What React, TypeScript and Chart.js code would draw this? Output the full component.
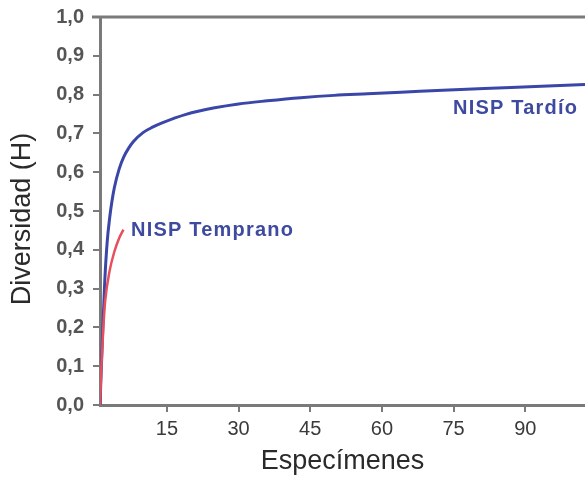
import React, { useEffect, useRef } from "react";
import { Chart, registerables } from "chart.js";

Chart.register(...registerables);

// Rarefaction curves (Specimens vs Diversity H)
const tardioX = [1, 1.2, 1.5, 2, 2.5, 3, 3.5, 4, 5, 6, 7, 8, 10, 12, 14, 19, 25, 30, 36, 43, 50, 57, 64, 74, 87, 102.5];
const tardioY = [0, 0.07, 0.17, 0.32, 0.42, 0.48, 0.525, 0.56, 0.608, 0.64, 0.662, 0.679, 0.702, 0.716, 0.727, 0.749, 0.766, 0.776, 0.784, 0.792, 0.798, 0.802, 0.806, 0.812, 0.818, 0.826];

const tempranoX = [1, 1.3, 1.7, 2.1, 3, 4, 5, 5.9];
const tempranoY = [0, 0.1, 0.2, 0.27, 0.345, 0.395, 0.43, 0.452];

const xTicks = [15, 30, 45, 60, 75, 90];
const yTicks = [0, 0.1, 0.2, 0.3, 0.4, 0.5, 0.6, 0.7, 0.8, 0.9, 1.0];

const xTitle = "Especímenes";
const yTitle = "Diversidad (H)";
const labelTardio = { text: "NISP Tardío", x: 74.9, y: 0.765 };
const labelTemprano = { text: "NISP Temprano", x: 7.5, y: 0.451 };

const FONT = "'Liberation Sans', Arial, Helvetica, sans-serif";
const AXIS = "#7a7a7a";
const BLUE = "#3a46a8";
const RED = "#e5505c";
const LABEL_BLUE = "#3d4aa0";

export default function App() {
  const ref = useRef<HTMLCanvasElement | null>(null);

  useEffect(() => {
    if (!ref.current) return;

    const extras = {
      id: "extras",
      afterDraw(chart: any) {
        const { ctx, chartArea, scales } = chart;
        ctx.save();
        // top border
        ctx.strokeStyle = AXIS;
        ctx.lineWidth = 3;
        ctx.beginPath();
        ctx.moveTo(chartArea.left - 8, chartArea.top);
        ctx.lineTo(chartArea.right, chartArea.top);
        ctx.stroke();
        // y axis title
        ctx.save();
        ctx.fillStyle = "#2a2a2a";
        ctx.font = `27px ${FONT}`;
        ctx.textAlign = "center";
        ctx.textBaseline = "middle";
        ctx.translate(23, (chartArea.top + chartArea.bottom) / 2 + 8);
        ctx.rotate(-Math.PI / 2);
        ctx.fillText(yTitle, 0, 0);
        ctx.restore();
        // series labels
        ctx.fillStyle = LABEL_BLUE;
        ctx.font = `bold 20px ${FONT}`;
        try {
          (ctx as any).letterSpacing = "1.2px";
        } catch (e) {}
        ctx.textBaseline = "middle";
        ctx.textAlign = "left";
        for (const l of [labelTardio, labelTemprano]) {
          ctx.fillText(l.text, scales.x.getPixelForValue(l.x), scales.y.getPixelForValue(l.y));
        }
        ctx.restore();
      },
    };

    const chart = new Chart(ref.current, {
      type: "scatter",
      data: {
        datasets: [
          {
            label: "NISP Temprano",
            data: tempranoX.map((x, i) => ({ x, y: tempranoY[i] })),
            showLine: true,
            borderColor: RED,
            borderWidth: 2.5,
            pointRadius: 0,
            cubicInterpolationMode: "monotone",
            fill: false,
          },
          {
            label: "NISP Tardío",
            data: tardioX.map((x, i) => ({ x, y: tardioY[i] })),
            showLine: true,
            borderColor: BLUE,
            borderWidth: 3,
            pointRadius: 0,
            cubicInterpolationMode: "monotone",
            fill: false,
          },
        ],
      },
      options: {
        animation: false,
        responsive: false,
        layout: { padding: { top: 17, right: 0, left: 0, bottom: 0 } },
        plugins: { legend: { display: false }, tooltip: { enabled: false } },
        scales: {
          x: {
            type: "linear",
            min: 1,
            max: 102.5,
            afterBuildTicks: (s: any) => {
              s.ticks = xTicks.map((v) => ({ value: v }));
            },
            afterFit: (s: any) => {
              s.height = 75;
              s.paddingLeft = 0;
              s.paddingRight = 0;
            },
            grid: { drawOnChartArea: false, color: AXIS, lineWidth: 2, tickLength: 7 },
            border: { color: AXIS, width: 3 },
            ticks: {
              color: "#3a3a3a",
              font: { family: FONT, size: 20 },
              padding: 5,
              maxRotation: 0,
            },
            title: {
              display: true,
              text: xTitle,
              color: "#2a2a2a",
              font: { family: FONT, size: 27 },
              padding: { top: 0, bottom: 2 },
            },
          },
          y: {
            type: "linear",
            min: 0,
            max: 1,
            afterBuildTicks: (s: any) => {
              s.ticks = yTicks.map((v) => ({ value: v }));
            },
            afterFit: (s: any) => {
              s.width = 100;
              s.paddingTop = 0;
              s.paddingBottom = 0;
            },
            grid: { drawOnChartArea: false, color: AXIS, lineWidth: 2, tickLength: 7 },
            border: { color: AXIS, width: 3 },
            ticks: {
              color: "#555555",
              font: { family: FONT, size: 20, weight: "bold" },
              padding: 9,
              callback: (v: any) => Number(v).toFixed(1).replace(".", ","),
            },
            title: { display: false },
          },
        },
      } as any,
      plugins: [extras],
    });

    return () => chart.destroy();
  }, []);

  return (
    <div style={{ position: "absolute", left: 0, top: 0, width: 585, height: 480, background: "#fff" }}>
      <canvas ref={ref} width={585} height={480} style={{ display: "block" }} />
    </div>
  );
}
